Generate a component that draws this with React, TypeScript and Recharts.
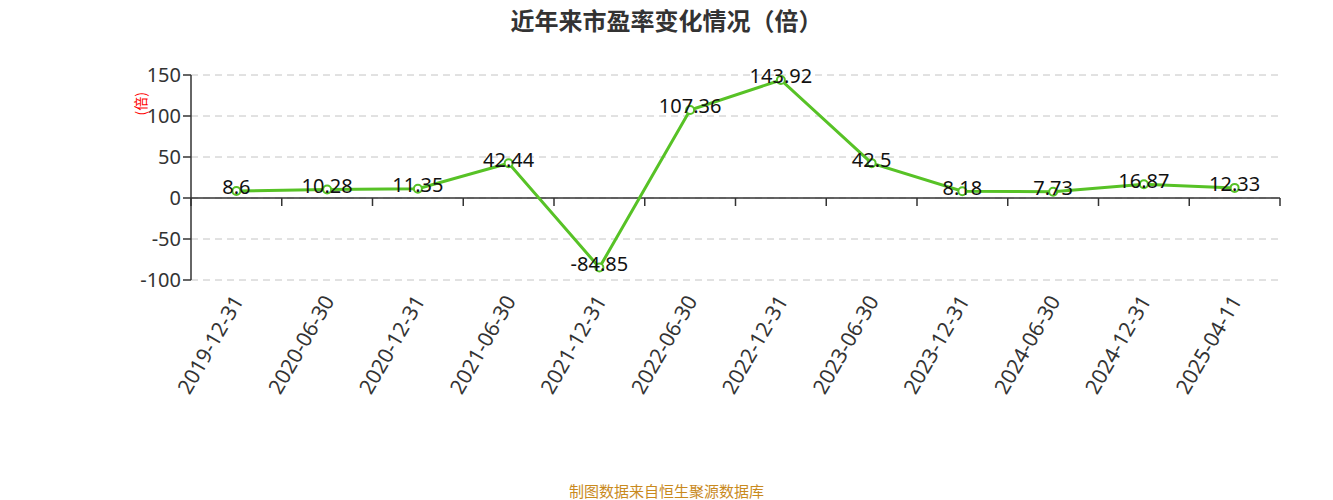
import { CartesianGrid, LabelList, Line, LineChart, ReferenceLine, XAxis, YAxis } from 'recharts'

const dates = [
  '2019-12-31',
  '2020-06-30',
  '2020-12-31',
  '2021-06-30',
  '2021-12-31',
  '2022-06-30',
  '2022-12-31',
  '2023-06-30',
  '2023-12-31',
  '2024-06-30',
  '2024-12-31',
  '2025-04-11',
]
const peValues = [8.6, 10.28, 11.35, 42.44, -84.85, 107.36, 143.92, 42.5, 8.18, 7.73, 16.87, 12.33]
const yTicks = [-100, -50, 0, 50, 100, 150]

const data = dates.map((d, i) => ({ date: d, pe: peValues[i] }))

const FONT = '"Noto Sans", "Noto Sans CJK SC", sans-serif'
const CJK = '"Noto Sans CJK SC", sans-serif'
const GREEN = '#57c226'

function DateTick(props: any) {
  const { x, y, payload } = props
  const tx = x + 3
  const ty = y + 10
  return (
    <text
      x={tx}
      y={ty}
      transform={`rotate(-60, ${tx}, ${ty})`}
      textAnchor="end"
      dominantBaseline="middle"
      fontSize={21}
      fill="#333"
      fontFamily={FONT}
    >
      {payload.value}
    </text>
  )
}

// zero line with category boundary ticks
function ZeroAxis(props: any) {
  const { x1, x2, y1 } = props
  const n = dates.length
  const step = (x2 - x1) / n
  const marks = Array.from({ length: n + 1 }, (_, i) => x1 + i * step)
  return (
    <g>
      <line x1={x1} x2={x2} y1={y1} y2={y1} stroke="#333" strokeWidth={1.5} />
      {marks.map((mx, i) => (
        <line key={i} x1={mx} x2={mx} y1={y1} y2={y1 + 8} stroke="#333" strokeWidth={1.5} />
      ))}
    </g>
  )
}

function ValueLabel(props: any) {
  const { x, y, value } = props
  return (
    <text
      x={x}
      y={y - 2}
      textAnchor="middle"
      dominantBaseline="middle"
      fontSize={20}
      fill="#111"
      fontFamily={FONT}
    >
      {value}
    </text>
  )
}

export default function App() {
  return (
    <div style={{ position: 'absolute', left: 0, top: 0, width: 1333, height: 500, background: '#fff' }}>
      <div
        style={{
          position: 'absolute',
          top: 2,
          width: '100%',
          textAlign: 'center',
          fontSize: 24,
          fontWeight: 'bold',
          color: '#333',
          fontFamily: CJK,
        }}
      >
        近年来市盈率变化情况（倍）
      </div>
      <LineChart
        width={1333}
        height={500}
        data={data}
        margin={{ top: 75, right: 53, left: 0, bottom: 0 }}
      >
        <CartesianGrid horizontal vertical={false} stroke="#c4c4c4" strokeDasharray="7 5" />
        <XAxis
          dataKey="date"
          scale="band"
          interval={0}
          height={220}
          axisLine={false}
          tickLine={false}
          tick={<DateTick />}
        />
        <YAxis
          width={191}
          domain={[-100, 150]}
          ticks={yTicks}
          interval={0}
          axisLine={{ stroke: '#333', strokeWidth: 1.5 }}
          tickLine={{ stroke: '#333', strokeWidth: 1.5 }}
          tickSize={8}
          tick={{ fontSize: 20, fill: '#333', fontFamily: FONT }}
          label={{
            value: '(倍)',
            angle: -90,
            position: 'insideTopRight',
            dx: -50,
            dy: 12,
            fill: '#f00',
            fontSize: 14,
            fontFamily: CJK,
          }}
        />
        <ReferenceLine y={0} shape={<ZeroAxis />} />
        <Line
          type="linear"
          dataKey="pe"
          stroke={GREEN}
          strokeWidth={3}
          dot={{ r: 4, fill: '#fff', stroke: GREEN, strokeWidth: 2 }}
          isAnimationActive={false}
        >
          <LabelList dataKey="pe" content={<ValueLabel />} />
        </Line>
      </LineChart>
      <div
        style={{
          position: 'absolute',
          top: 480,
          width: '100%',
          textAlign: 'center',
          fontSize: 15,
          color: '#c98a1e',
          fontFamily: CJK,
        }}
      >
        制图数据来自恒生聚源数据库
      </div>
    </div>
  )
}
